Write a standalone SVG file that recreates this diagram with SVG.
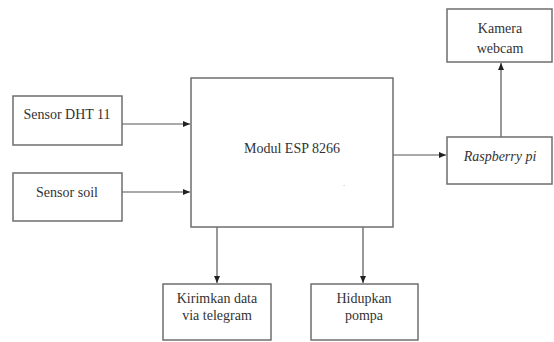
<svg xmlns="http://www.w3.org/2000/svg" width="554" height="342" viewBox="0 0 554 342">
<style>
.box{fill:#fff;stroke:#6e6e6e;stroke-width:1.5}
.t{font-family:'Liberation Serif','Tinos','DejaVu Serif',serif;font-size:14px;fill:#333;text-anchor:middle}
.c{stroke:#555;stroke-width:1.2;fill:none;marker-end:url(#ah)}
</style>
<defs>
<marker id="ah" markerWidth="8" markerHeight="8" refX="7" refY="4" orient="auto" markerUnits="userSpaceOnUse">
<path d="M0,1 L7,4 L0,7 Z" fill="#222"/>
</marker>
</defs>
<rect width="554" height="342" fill="#fff"/>
<g id="connectors">
<path class="c" d="M122,124 H190"/>
<path class="c" d="M122,192 H190"/>
<path class="c" d="M393,155 H446"/>
<path class="c" d="M501,137 V63"/>
<path class="c" d="M217,227 V283"/>
<path class="c" d="M363,227 V283"/>
</g>
<g id="sensor-dht">
<rect class="box" x="13" y="96" width="109" height="49"/>
<text class="t" x="67" y="119" font-family="Liberation Serif, serif">Sensor DHT 11</text>
</g>
<g id="sensor-soil">
<rect class="box" x="13" y="173" width="109" height="48"/>
<text class="t" x="67" y="197">Sensor soil</text>
</g>
<g id="esp">
<rect class="box" x="191" y="78" width="202" height="149"/>
<text class="t" x="292" y="153">Modul ESP 8266</text>
<text class="t" x="344" y="186" style="font-size:8px;fill:#999">.</text>
</g>
<g id="raspberry">
<rect class="box" x="447" y="137" width="105" height="47"/>
<text class="t" x="500" y="161" font-style="italic">Raspberry pi</text>
</g>
<g id="kamera">
<rect class="box" x="447" y="9" width="105" height="53"/>
<text class="t" x="500" y="33">Kamera</text>
<text class="t" x="500" y="53">webcam</text>
</g>
<g id="kirimkan">
<rect class="box" x="163" y="284" width="108" height="56"/>
<text class="t" x="217" y="303">Kirimkan data</text>
<text class="t" x="217" y="320">via telegram</text>
</g>
<g id="hidupkan">
<rect class="box" x="311" y="284" width="107" height="56"/>
<text class="t" x="364" y="303">Hidupkan</text>
<text class="t" x="364" y="320">pompa</text>
</g>
</svg>
